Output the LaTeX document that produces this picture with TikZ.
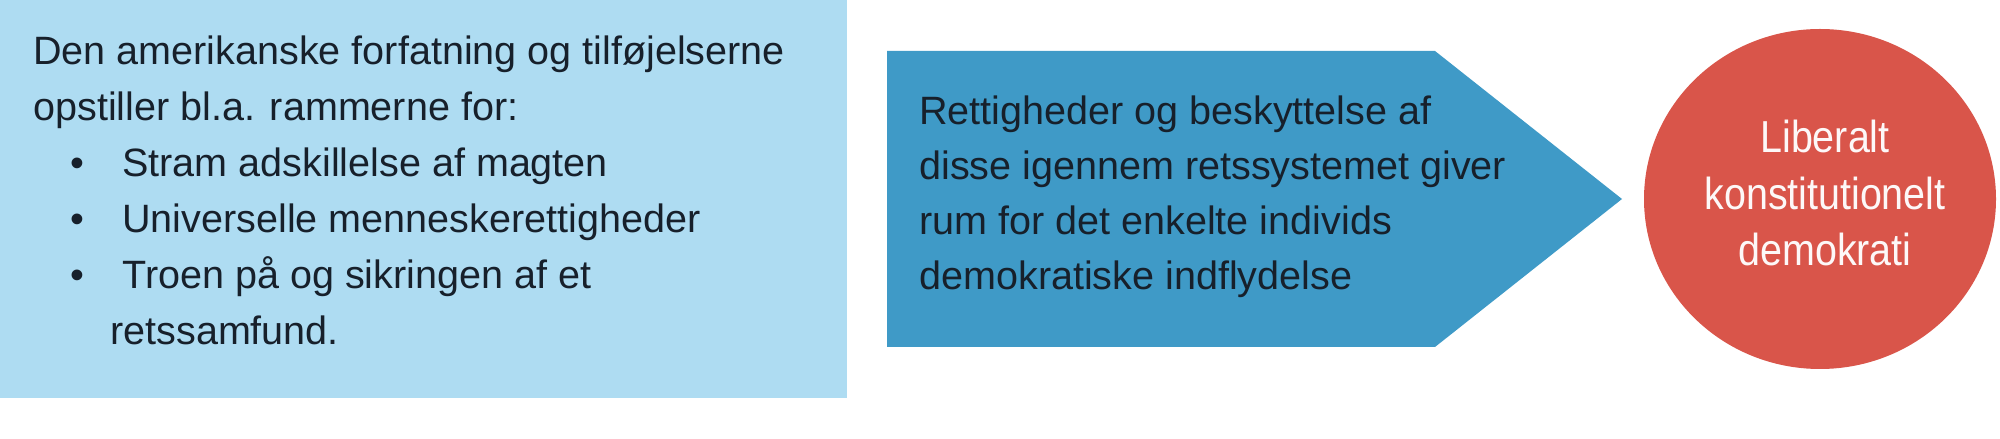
\documentclass[tikz,border=0pt]{standalone}
\usepackage{fontspec}
\setmainfont{Liberation Sans}
\newfontfamily\smalskrift[FakeStretch=0.88]{Liberation Sans}
\usepackage{xcolor}
\definecolor{lysblaa}{HTML}{AEDCF2}
\definecolor{pilblaa}{HTML}{3F9AC7}
\definecolor{roed}{HTML}{D9554A}
\definecolor{skrift}{HTML}{17202B}

\begin{document}
\begin{tikzpicture}[
    tekst/.style={anchor=base west, inner sep=0pt, text=skrift, font=\fontsize{22.5}{32}\selectfont},
    hvid/.style={anchor=base, inner sep=0pt, text=white!96!roed, font=\smalskrift\fontsize{25.5}{32}\selectfont}]
    \useasboundingbox (0,0) rectangle (40,8.78);
    \fill[lysblaa] (0,0.82) rectangle (16.94,8.78);
    \fill[pilblaa] (17.74,7.76) -- (28.7,7.76) -- (32.44,4.8) -- (28.7,1.84) -- (17.74,1.84) -- cycle;
    \fill[roed] (36.4,4.8) ellipse [x radius=3.52, y radius=3.40];
    % venstre felt
    \node[tekst] (indl1) at (0.66,7.48) {Den amerikanske forfatning og tilføjelserne};
    \node[tekst] (indl2) at (0.66,6.36) {opstiller bl.a. rammerne for:};
    \foreach \y [count=\i] in {5.24,4.12,3.0}
      \node[tekst] (prik\i) at (1.40,\y) {\textbullet};
    \node[tekst] (p1) at (2.44,5.24) {Stram adskillelse af magten};
    \node[tekst] (p2) at (2.44,4.12) {Universelle menneskerettigheder};
    \node[tekst] (p3) at (2.44,3.0) {Troen på og sikringen af et};
    \node[tekst] (p3b) at (2.2,1.88) {retssamfund.};
    % pil
    \node[tekst] (r1) at (18.38,6.28) {Rettigheder og beskyttelse af};
    \node[tekst] (r2) at (18.38,5.18) {disse igennem retssystemet giver};
    \node[tekst] (r3) at (18.38,4.08) {rum for det enkelte individs};
    \node[tekst] (r4) at (18.38,2.98) {demokratiske indflydelse};
    % cirkel
    \node[hvid] (d1) at (36.5,5.72) {Liberalt};
    \node[hvid] (d2) at (36.5,4.59) {konstitutionelt};
    \node[hvid] (d3) at (36.5,3.46) {demokrati};
\end{tikzpicture}
\end{document}
